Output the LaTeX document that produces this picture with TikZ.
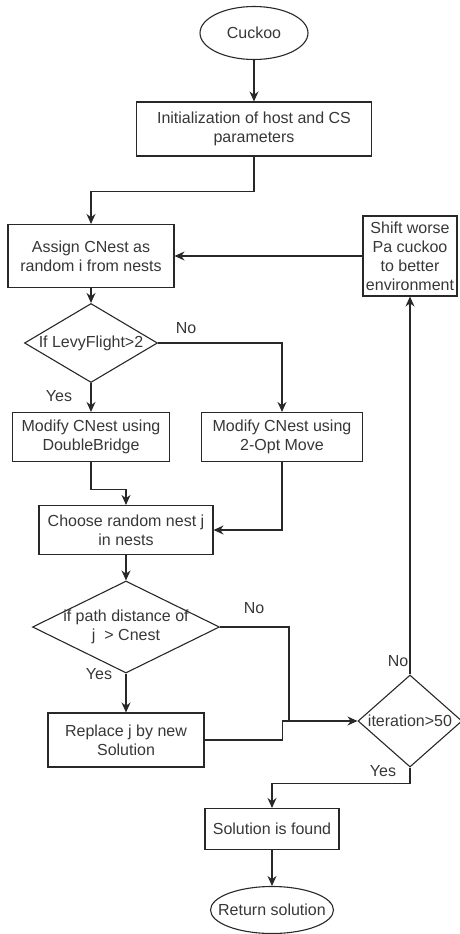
\documentclass[tikz,border=0pt]{standalone}
\usepackage{fontspec}
\setmainfont{Liberation Sans}
\usepackage{tikz}
\usetikzlibrary{shapes.geometric,arrows.meta,positioning}
\definecolor{flowline}{RGB}{40,40,40}
\definecolor{flowtext}{RGB}{55,55,55}
\tikzset{
  flowfont/.style={font=\fontsize{16}{19}\selectfont, text=flowtext},
  term/.style={ellipse, draw=flowline, line width=1.1pt, flowfont,
               inner xsep=-11pt, inner ysep=0pt},
  procbox/.style={rectangle, draw=flowline, line width=1.1pt, flowfont,
                  align=center, inner sep=2pt},
  decide/.style={diamond, draw=flowline, line width=1.1pt, flowfont,
                 align=center, inner sep=0pt},
  flow/.style={-{Stealth[length=10pt,width=9pt]}, line width=1.1pt, draw=flowline},
  link/.style={line width=1.1pt, draw=flowline},
  answer/.style={flowfont},
}

\begin{document}
\begin{tikzpicture}[x=1pt,y=-1pt]
  \useasboundingbox (0,0) rectangle (460,934);

  % main column
  \node[term, minimum width=108pt, minimum height=53pt] (cuckoo) at (254,33) {Cuckoo};
  \node[procbox, minimum width=235pt, minimum height=54pt] (init) at (254,129) {Initialization of host and CS\\parameters};
  \node[procbox, minimum width=166pt, minimum height=63pt] (assign) at (91,256) {Assign CNest as\\random i from nests};
  \node[decide, aspect=1.68, minimum width=133pt, minimum height=79pt] (levy) at (91,343) {If LevyFlight>2};
  \node[procbox, minimum width=157pt, minimum height=49pt] (bridge) at (91,437) {Modify CNest using\\DoubleBridge};
  \node[procbox, minimum width=161pt, minimum height=49pt] (twoopt) at (282,437) {Modify CNest using\\2-Opt Move};
  \node[procbox, minimum width=174pt, minimum height=49pt] (choose) at (126,530) {Choose random nest j\\in nests};
  \node[decide, aspect=2.03, minimum width=187pt, minimum height=92pt,
        inner xsep=-4pt, inner ysep=-3pt] (dist) at (126,627) {if path distance of\\j\ \ > Cnest};
  \node[procbox, minimum width=156pt, minimum height=54pt] (replace) at (126,740) {Replace j by new\\Solution};

  % right column
  \node[procbox, minimum width=94pt, minimum height=80pt, inner xsep=1pt] (shift) at (410,256) {Shift worse\\Pa cuckoo\\to better\\environment};
  \node[decide, aspect=1.13, minimum width=104pt, minimum height=92pt] (iter) at (410,721) {iteration>50};
  \node[procbox, minimum width=134pt, minimum height=41pt] (found) at (272,829) {Solution is found};
  \node[term, minimum width=123pt, minimum height=47pt] (ret) at (272,910) {Return solution};

  % connectors
  \draw[flow] (cuckoo) -- (init);
  \draw[flow] (init.south) -- ++(0,35) -| (assign.north);
  \draw[flow] (shift) -- (assign);
  \draw[flow] (assign) -- (levy);
  \draw[flow] (levy.east) -| (twoopt.north);
  \draw[flow] (levy) -- (bridge);
  \draw[flow] (bridge.south) -- ++(0,27) -| (choose.north);
  \draw[flow] (twoopt.south) |- (choose.east);
  \draw[flow] (choose) -- (dist);
  \draw[flow] (dist) -- (replace);
  \coordinate (merge) at (289,721);
  \draw[link] (dist.east) -| (merge);
  \draw[flow] (replace.east) -- ++(78,0) |- (iter.west);
  \draw[flow] (iter) -- (shift);
  \draw[flow] (iter.south) -- ++(0,16) -| (found.north);
  \draw[flow] (found) -- (ret);

  % branch labels
  \node[answer] (levyNo) at (186,328) {No};
  \node[answer] (levyYes) at (59,396) {Yes};
  \node[answer] (distNo) at (254,608) {No};
  \node[answer] (distYes) at (99,674) {Yes};
  \node[answer] (iterNo) at (398,661) {No};
  \node[answer] (iterYes) at (383,771) {Yes};
\end{tikzpicture}
\end{document}
